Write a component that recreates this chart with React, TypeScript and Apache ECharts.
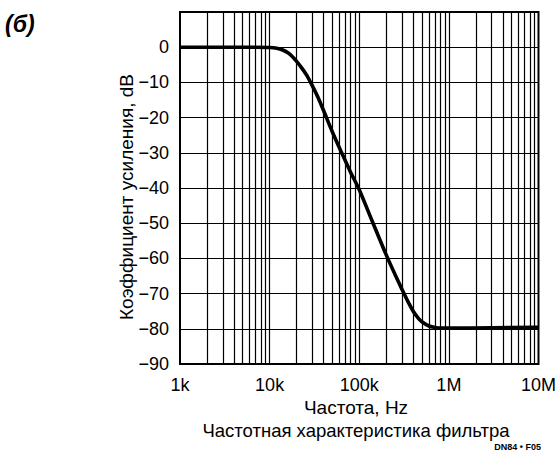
import React, { useEffect, useRef } from "react";
import * as echarts from "echarts";

const freqHz = [1000, 5000, 10000, 12000, 14000, 16000, 18000, 20000, 23000, 26000, 30000, 35000, 40000, 50000, 65000, 80000, 100000, 140000, 200000, 250000, 300000, 350000, 400000, 450000, 500000, 600000, 700000, 800000, 1000000, 3000000, 10000000];
const gainDb = [0, 0, -0.1, -0.3, -0.8, -1.6, -2.7, -4, -6, -8, -11, -14.5, -18, -24, -30.5, -35.5, -40.5, -49.5, -59, -64.5, -68.8, -72.3, -75, -76.8, -78, -79.2, -79.6, -79.8, -79.8, -79.7, -79.6];

const xTickValues = [1000, 10000, 100000, 1000000, 10000000];
const xTickLabels = ["1k", "10k", "100k", "1M", "10M"];
const minorMultipliers = [2, 3, 4, 5, 6, 7, 8, 9];
const yTickLabels: Record<number, string> = { 0: "0", [-10]: "\u221210", [-20]: "\u221220", [-30]: "\u221230", [-40]: "\u221240", [-50]: "\u221250", [-60]: "\u221260", [-70]: "\u221270", [-80]: "\u221280", [-90]: "\u221290" };

const FONT = "'Liberation Sans', Arial, Helvetica, sans-serif";

export default function App() {
  const ref = useRef<HTMLDivElement>(null);
  useEffect(() => {
    if (!ref.current) return;
    const chart = echarts.init(ref.current, undefined, { renderer: "svg" });
    const verticals: { xAxis: number }[] = [];
    for (let d = 0; d < 4; d++) {
      const base = xTickValues[d];
      for (const m of minorMultipliers) verticals.push({ xAxis: base * m });
    }
    for (const v of xTickValues.slice(1, 4)) verticals.push({ xAxis: v });
    chart.setOption({
      animation: false,
      backgroundColor: "#fff",
      grid: { left: 180, right: 19, top: 12, bottom: 87, show: true, borderColor: "#000", borderWidth: 2, backgroundColor: "transparent" },
      xAxis: {
        type: "log",
        logBase: 10,
        min: 1000,
        max: 10000000,
        axisLine: { show: false },
        axisTick: { show: false },
        splitLine: { show: false },
        axisLabel: {
          color: "#000",
          fontFamily: FONT,
          fontSize: 18,
          margin: 12,
          formatter: (v: number) => {
            const i = xTickValues.findIndex((t) => Math.abs(t - v) / t < 1e-6);
            return i >= 0 ? xTickLabels[i] : "";
          },
        },
      },
      yAxis: {
        type: "value",
        min: -90,
        max: 10,
        interval: 10,
        axisLine: { show: false },
        axisTick: { show: false },
        splitLine: { show: true, lineStyle: { color: "#000", width: 1.2 } },
        axisLabel: {
          color: "#000",
          fontFamily: FONT,
          fontSize: 18,
          margin: 11,
          formatter: (v: number) => yTickLabels[Math.round(v)] ?? "",
        },
      },
      series: [
        {
          type: "line",
          data: [],
          silent: true,
          markLine: {
            silent: true,
            symbol: "none",
            label: { show: false },
            lineStyle: { color: "#000", width: 1.2, type: "solid" },
            data: verticals,
          },
        },
        {
          type: "line",
          data: freqHz.map((f, i) => [f, gainDb[i]]),
          smooth: 0.3,
          showSymbol: false,
          lineStyle: { color: "#000", width: 3.6 },
          z: 5,
        },
      ],
      graphic: [
        { type: "text", left: 5, top: 12, style: { text: "(б)", fill: "#000", font: `italic bold 23px ${FONT}` } },
        { type: "text", x: 126, y: 197, rotation: Math.PI / 2, style: { text: "Коэффициент усиления, dB", fill: "#000", font: `19px ${FONT}`, align: "center", verticalAlign: "middle" } },
        { type: "text", x: 356, y: 407, style: { text: "Частота, Hz", fill: "#000", font: `19px ${FONT}`, align: "center", verticalAlign: "middle" } },
        { type: "text", x: 356, y: 430, style: { text: "Частотная характеристика фильтра", fill: "#000", font: `18.5px ${FONT}`, align: "center", verticalAlign: "middle" } },
        { type: "text", x: 541, y: 447, style: { text: "DN84 • F05", fill: "#000", font: `bold 9px ${FONT}`, align: "right", verticalAlign: "middle" } },
      ],
    });
    return () => chart.dispose();
  }, []);
  return <div ref={ref} style={{ width: 559, height: 451, position: "absolute", left: 0, top: 0 }} />;
}
